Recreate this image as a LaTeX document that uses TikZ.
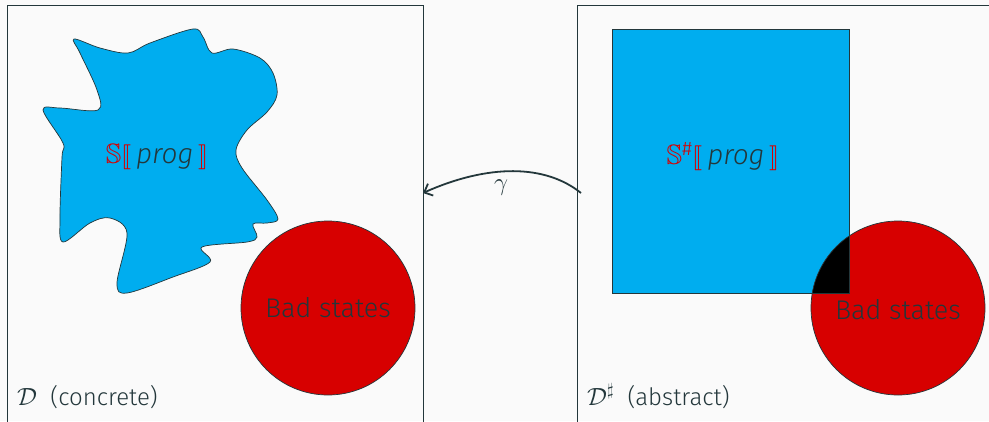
\documentclass[tikz,border=0pt]{standalone}
\usepackage{amssymb}
\usepackage{stmaryrd}
\usepackage{fontspec}
\setmainfont{Fira Sans}[UprightFont=* Light, ItalicFont=* Light Italic]
\usetikzlibrary{arrows.meta}

\definecolor{bgcol}{HTML}{FAFAFA}
\definecolor{fgcol}{HTML}{23373B}
\definecolor{setblue}{RGB}{0,173,239}
\definecolor{badred}{RGB}{215,0,0}

\tikzset{
  panel/.style={draw=fgcol, line width=1pt},
  badset/.style={circle, draw=fgcol, line width=0.7pt, fill=badred,
    minimum size=174pt, inner sep=0pt, text=fgcol, font=\fontsize{27}{30}\selectfont},
  semlabel/.style={text=fgcol, font=\fontsize{28}{32}\selectfont},
  domlabel/.style={anchor=base west, text=fgcol, inner sep=0pt, font=\fontsize{24}{28}\selectfont},
}
\newcommand{\semof}[1]{\textcolor{badred}{$#1\llbracket$}\,\textit{prog}\,\textcolor{badred}{$\rrbracket$}}

\begin{document}
\begin{tikzpicture}[x=1pt, y=-1pt]
  \fill[bgcol] (0,0) rectangle (989,421);
  \useasboundingbox (0,0) rectangle (989,421);
  \clip (0,0) rectangle (989,421);

  % concrete domain
  \draw[panel] (7,5) rectangle (423,440);
  \draw[fill=setblue, draw=fgcol, line width=0.7pt]
    plot[smooth cycle, tension=0.55] coordinates {
      (74,39) (100,48) (128,53) (150,43) (193,29) (203,37) (212,53)
      (233,49) (260,58) (273,73) (277,95) (267,112) (247,130) (236,150)
      (242,168) (267,200) (278,219) (267,223) (253,224) (257,237)
      (247,242) (202,247) (210,262) (173,277) (127,293) (117,283)
      (127,233) (110,218) (90,223) (63,242) (60,217) (62,157) (63,143)
      (43,110) (60,108) (98,110) (97,90) (80,53)};
  \node[semlabel] (sem) at (157,157) {\semof{\mathbb{S}}};
  \node[badset] (bad) at (328,308) {Bad states};
  \node[domlabel] (dom) at (17,405) {$\mathcal{D}$\ \ (concrete)};

  % abstract domain
  \draw[panel] (577,5) rectangle (1000,440);
  \fill[setblue] (612,29) rectangle (849,293);
  \node[badset, draw=none] (absbad) at (898,308) {};
  \begin{scope}
    \clip (612,29) rectangle (849,293);
    \fill[black] (898,308) circle (87pt);
  \end{scope}
  \draw[fgcol, line width=0.7pt] (612,29) rectangle (849,293);
  \draw[fgcol, line width=0.7pt] (898,308) circle (87pt);
  \node[semlabel] (abssem) at (723,157) {\semof{\mathbb{S}^{\#}}};
  \node[text=fgcol, font=\fontsize{27}{30}\selectfont] (abslabel) at (898,310) {Bad states};
  \node[domlabel] (absdom) at (587,405) {$\mathcal{D}^\sharp$\ \ (abstract)};

  % concretisation map
  \coordinate (gsrc) at (581,193);
  \coordinate (gdst) at (423,193);
  \draw[fgcol, line width=1.8pt, -{Straight Barb[length=7pt, width=13pt]}]
    (gsrc) .. controls (545,164) and (488,164) .. (gdst);
  \node[text=fgcol, font=\fontsize{32}{36}\selectfont] (gamma) at (501,188) {$\gamma$};
\end{tikzpicture}
\end{document}
